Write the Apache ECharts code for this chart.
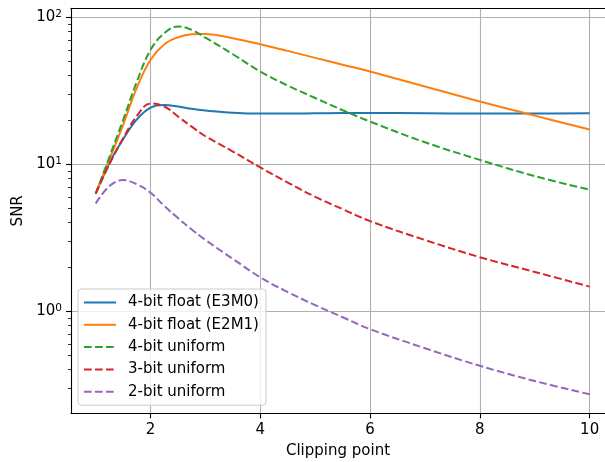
<!DOCTYPE html>
<html>
<head>
<meta charset="utf-8">
<script src="https://cdn.jsdelivr.net/npm/echarts@6/dist/echarts.min.js"></script>
<style>
  html, body { margin: 0; padding: 0; background: #fff; }
  #chart { width: 605px; height: 462px; }
</style>
</head>
<body>
<div id="chart"></div>
<script>
  'use strict';
  // clipping points (x) and SNR per quantiser
  var clipPoints = [1, 1.25, 1.5, 1.75, 2, 2.25, 2.5, 2.75, 3, 3.5, 4, 4.5, 5, 5.5, 6, 7, 8, 9, 10];
  var floatE3M0 = [6.3, 10.2, 14.8, 20.2, 24.3, 25.3, 24.7, 23.8, 23.2, 22.4, 22.1, 22.1, 22.2, 22.3, 22.3, 22.2, 22.1, 22.1, 22.2];
  var floatE2M1 = [6.3, 10.8, 18.5, 33.2, 51.3, 65.5, 73.1, 76.6, 77, 72, 65.5, 59, 52.9, 47.5, 42.7, 33.8, 26.7, 21.4, 17.2];
  var uniform4 = [6.3, 11.2, 20, 36.5, 60, 77.8, 86.5, 82, 72.6, 56, 42.7, 34.3, 28.2, 23.3, 19.5, 14.1, 10.7, 8.3, 6.7];
  var uniform3 = [6.3, 10.0, 15.0, 21.3, 25.9, 24.7, 21.1, 18.0, 15.5, 12.2, 9.5, 7.5, 6.0, 4.95, 4.1, 3.05, 2.33, 1.85, 1.47];
  var uniform2 = [5.4, 7.1, 7.8, 7.3, 6.4, 5.2, 4.3, 3.6, 3.05, 2.27, 1.7, 1.35, 1.1, 0.91, 0.755, 0.56, 0.425, 0.335, 0.272];

  var seriesNames = ['4-bit float (E3M0)', '4-bit float (E2M1)', '4-bit uniform', '3-bit uniform', '2-bit uniform'];
  var seriesValues = [floatE3M0, floatE2M1, uniform4, uniform3, uniform2];
  var seriesColors = ['#1f77b4', '#ff7f0e', '#2ca02c', '#d62728', '#9467bd'];
  var seriesDashed = [false, false, true, true, true];

  var xTicks = [2, 4, 6, 8, 10];
  var yMajorTicks = [1, 10, 100];
  var yMinorTicks = [0.3, 0.4, 0.5, 0.6, 0.7, 0.8, 0.9, 2, 3, 4, 5, 6, 7, 8, 9, 20, 30, 40, 50, 60, 70, 80, 90];

  var font = 'DejaVu Sans';
  var fontSize = 15;
  // right spine of the original figure falls outside the picture
  var xMin = 0.55, xMax = 10.28, yMin = 0.202, yMax = 115;

  var chart = echarts.init(document.getElementById('chart'), null, { renderer: 'canvas' });

  var series = seriesNames.map(function (name, i) {
    return {
      name: name,
      type: 'line',
      xAxisIndex: 0,
      yAxisIndex: 0,
      smooth: 0.4,
      symbol: 'circle',
      showSymbol: false,
      color: seriesColors[i],
      lineStyle: {
        width: 2,
        color: seriesColors[i],
        type: seriesDashed[i] ? [7.7, 3.3] : 'solid'
      },
      data: clipPoints.map(function (x, j) { return [x, seriesValues[i][j]]; })
    };
  });

  chart.setOption({
    animation: false,
    backgroundColor: '#fff',
    textStyle: { fontFamily: font },
    grid: { left: 71, top: 8.3, right: 0, height: 405, outerBoundsMode: 'none' },
    legend: {
      left: 78,
      top: 289,
      orient: 'vertical',
      itemWidth: 32,
      itemHeight: 14,
      itemGap: 7.3,
      padding: [6, 7, 6, 5],
      backgroundColor: 'rgba(255,255,255,0.8)',
      borderColor: '#cccccc',
      borderWidth: 1,
      borderRadius: 3,
      itemStyle: { opacity: 0 },
      textStyle: { fontFamily: font, fontSize: fontSize, color: '#000', padding: [0, 0, 0, 7] },
      data: seriesNames
    },
    xAxis: [{
      type: 'value',
      min: xMin,
      max: xMax,
      name: 'Clipping point',
      nameLocation: 'middle',
      nameGap: 30,
      nameTextStyle: { fontFamily: font, fontSize: fontSize, color: '#000' },
      axisLine: { onZero: false, lineStyle: { color: '#000', width: 1.1 } },
      axisTick: { customValues: xTicks, length: 5, lineStyle: { color: '#000', width: 1.1 } },
      axisLabel: { customValues: xTicks, margin: 9, fontFamily: font, fontSize: fontSize, color: '#000' },
      splitLine: { show: true, lineStyle: { color: '#b0b0b0', width: 1.1 } }
    }, {
      type: 'value',
      position: 'top',
      min: xMin,
      max: xMax,
      axisLine: { show: true, onZero: false, lineStyle: { color: '#000', width: 1.1 } },
      axisTick: { show: false },
      axisLabel: { show: false },
      splitLine: { show: false }
    }],
    yAxis: [{
      type: 'log',
      logBase: 10,
      min: yMin,
      max: yMax,
      name: 'SNR',
      nameLocation: 'middle',
      nameGap: 45,
      nameRotate: 90,
      nameTextStyle: { fontFamily: font, fontSize: fontSize, color: '#000' },
      axisLine: { show: true, onZero: false, lineStyle: { color: '#000', width: 1.1 } },
      axisTick: { show: true, customValues: yMajorTicks, length: 5, lineStyle: { color: '#000', width: 1.1 } },
      axisLabel: {
        customValues: yMajorTicks,
        margin: 9,
        fontFamily: font,
        fontSize: fontSize,
        color: '#000',
        formatter: function (v) {
          return '10{s|' + Math.round(Math.log(v) / Math.LN10) + '}';
        },
        rich: { s: { fontFamily: font, fontSize: 10.5, color: '#000', verticalAlign: 'top', padding: [0, 0, 6, 0] } }
      },
      splitLine: { show: true, lineStyle: { color: '#b0b0b0', width: 1.1 } }
    }, {
      type: 'log',
      logBase: 10,
      position: 'left',
      min: yMin,
      max: yMax,
      axisLine: { show: false },
      axisTick: { show: true, customValues: yMinorTicks, length: 3, lineStyle: { color: '#000', width: 0.8 } },
      axisLabel: { show: false },
      splitLine: { show: false }
    }],
    series: series
  });
</script>
</body>
</html>
